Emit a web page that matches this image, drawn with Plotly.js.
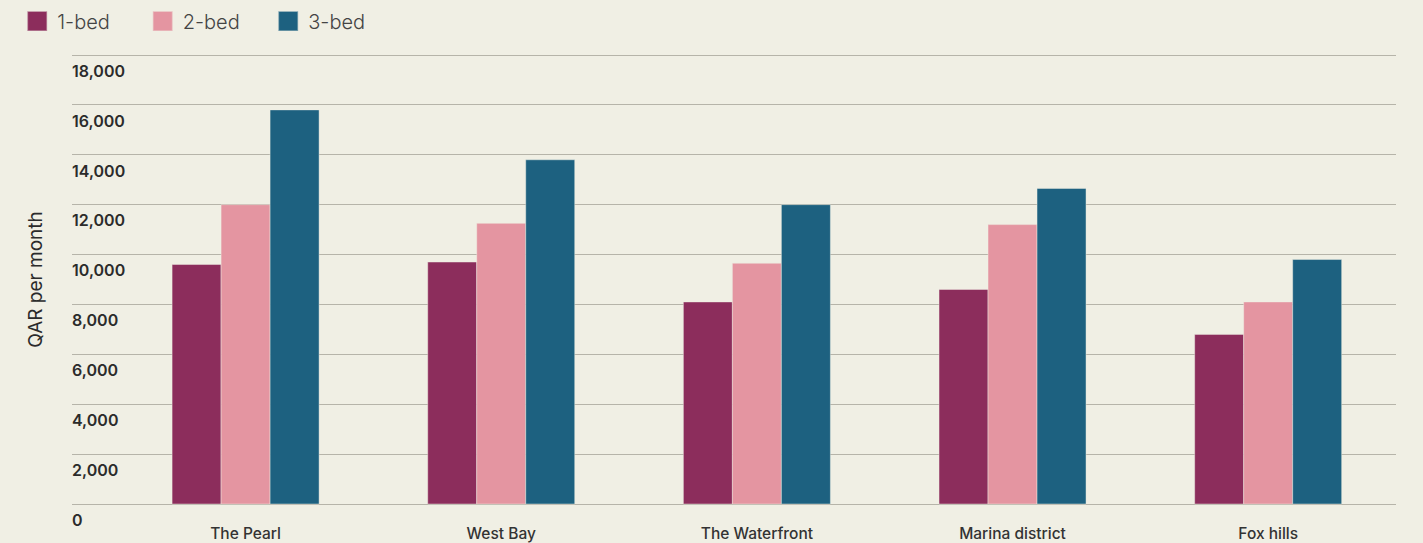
<!DOCTYPE html>
<html>
<head>
<meta charset="utf-8">
<script src="https://cdn.plot.ly/plotly-3.0.1.min.js"></script>
<style>
  html, body { margin: 0; padding: 0; background: #F0EFE4; }
  #chart { width: 1423px; height: 543px; }
</style>
</head>
<body>
<div id="chart"></div>
<script>
// Average monthly rent by district and apartment size (QAR)
const districts = ["The Pearl", "West Bay", "The Waterfront", "Marina district", "Fox hills"];
const oneBed   = [9600, 9700, 8100, 8600, 6800];
const twoBed   = [12000, 11250, 9650, 11200, 8100];
const threeBed = [15800, 13800, 12000, 12650, 9800];
const seriesNames = ["1-bed", "2-bed", "3-bed"];
const yTicks = [0, 2000, 4000, 6000, 8000, 10000, 12000, 14000, 16000, 18000];

const colors = ["#8C2D5C", "#E495A1", "#1D6180"];
const edge = "rgba(240,239,228,0.45)";
const FONT = "Inter, 'Liberation Sans', sans-serif";

const traces = [oneBed, twoBed, threeBed].map((vals, i) => ({
  type: "bar",
  name: seriesNames[i],
  x: districts,
  y: vals,
  marker: { color: colors[i], line: { color: edge, width: 1 } },
  hovertemplate: "%{x}<br>" + seriesNames[i] + ": %{y:,} QAR<extra></extra>"
}));

const layout = {
  width: 1423,
  height: 543,
  paper_bgcolor: "#F0EFE4",
  plot_bgcolor: "#F0EFE4",
  // the value axis is padded equally above 18,000 and below 0 so the
  // "0" label fits under the baseline and the axis title stays centred
  margin: { l: 72, r: 27, t: 20, b: 4, pad: 0, autoexpand: false },
  barmode: "group",
  bargap: 0.425,
  bargroupgap: 0,
  font: { family: FONT, color: "#2B2B2B" },
  showlegend: true,
  legend: {
    orientation: "h",
    xref: "container", yref: "container",
    x: 0.0121, y: 0.997, xanchor: "left", yanchor: "top",
    entrywidth: 80.5, entrywidthmode: "pixels",
    font: { family: FONT, size: 20, color: "#444444", weight: 300 },
    bgcolor: "rgba(0,0,0,0)",
    traceorder: "normal"
  },
  xaxis: {
    type: "category",
    range: [-0.679, 4.5],
    showgrid: false,
    zeroline: false,
    showline: false,
    ticks: "",
    ticklabelstandoff: -17,
    tickfont: { family: FONT, size: 15.5, color: "#333333", weight: 500 },
    fixedrange: true
  },
  yaxis: {
    range: [-1403, 19403],
    tickvals: yTicks,
    tickformat: ",d",
    showgrid: true,
    gridcolor: "#B6B4A9",
    gridwidth: 1.3,
    zeroline: true,
    zerolinecolor: "#B6B4A9",
    zerolinewidth: 1.3,
    showline: false,
    ticks: "",
    ticklabelposition: "inside bottom",
    ticklabelshift: 5,
    ticklabelstandoff: -3,
    tickfont: { family: FONT, size: 16, color: "#2B2B2B", weight: 600 },
    title: { text: "QAR per month", font: { family: FONT, size: 19, color: "#2B2B2B", weight: 400 }, standoff: 24 },
    automargin: false,
    fixedrange: true
  }
};

// enlarge the legend swatches to 20px squares, keeping their own offset
function sizeSwatches() {
  document.querySelectorAll("#chart .legendpoints path").forEach(p => {
    const t = p.getAttribute("transform") || "";
    if (t.indexOf("scale") === -1) p.setAttribute("transform", (t + " scale(1.65)").trim());
  });
}

Plotly.newPlot("chart", traces, layout, { displayModeBar: false, responsive: false })
  .then(gd => { sizeSwatches(); gd.on("plotly_afterplot", sizeSwatches); });
</script>
</body>
</html>
